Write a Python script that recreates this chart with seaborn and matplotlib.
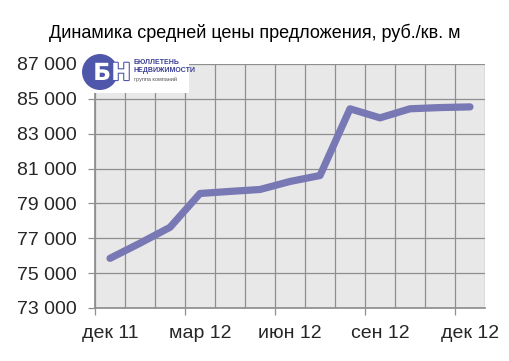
import matplotlib
matplotlib.use("Agg")
import matplotlib.pyplot as plt
import matplotlib.patheffects as pe
import seaborn as sns
import pandas as pd
from matplotlib.patches import Circle, Rectangle

months = ["дек 11", "янв 12", "фев 12", "мар 12", "апр 12", "май 12", "июн 12",
          "июл 12", "авг 12", "сен 12", "окт 12", "ноя 12", "дек 12"]
prices = [75850, 76720, 77630, 79570, 79690, 79800, 80260,
          80600, 84430, 83910, 84430, 84500, 84540]
label_months = ["дек 11", "мар 12", "июн 12", "сен 12", "дек 12"]
y_ticks = [73000, 75000, 77000, 79000, 81000, 83000, 85000, 87000]
title = "Динамика средней цены предложения, руб./кв. м"

df = pd.DataFrame({"idx": range(len(months)), "month": months, "price": prices})

sns.set_theme(style="white")
plt.rcParams['font.family'] = ['Liberation Sans', 'DejaVu Sans']

fig = plt.figure(figsize=(5.10, 3.61), dpi=100)
ax = fig.add_axes([95/510, 53/361, 390/510, 244/361])
ax.set_zorder(0)
ax.set_facecolor("#e8e8e8")

sns.lineplot(data=df, x="idx", y="price", ax=ax, color="#7878b4",
             linewidth=5.2, solid_capstyle="round", solid_joinstyle="round", zorder=3)

n = len(months)
ax.set_xlim(-0.5, n - 0.5)
ax.set_ylim(y_ticks[0], y_ticks[-1])

# grid
for b in range(n + 1):
    ax.axvline(b - 0.5, color="#8f8f8f", linewidth=0.9, zorder=1)
for yv in y_ticks:
    ax.axhline(yv, color="#8f8f8f", linewidth=0.9, zorder=1)

label_pos = [months.index(m) for m in label_months]
ax.set_xticks(label_pos)
ax.set_xticklabels(label_months, fontsize=14)
ax.set_xticks([p - 0.5 for p in label_pos], minor=True)
ax.tick_params(axis="x", which="major", length=0, pad=12)
ax.tick_params(axis="x", which="minor", length=5, width=0.9, color="#8f8f8f", direction="out", bottom=True)

ax.set_yticks(y_ticks)
ax.set_yticklabels([f"{v:,}".replace(",", " ") for v in y_ticks], fontsize=14)
ax.tick_params(axis="y", which="major", length=5, width=0.9, color="#8f8f8f", direction="out", left=True, pad=8)

for s in ax.spines.values():
    s.set_visible(False)
ax.spines["left"].set_visible(True)
ax.spines["bottom"].set_visible(True)
ax.spines["left"].set_color("#8f8f8f")
ax.spines["bottom"].set_color("#8f8f8f")
ax.set_xlabel("")
ax.set_ylabel("")

fig.text(0.5, 1 - 33/361, title, ha="center", va="center", fontsize=13, color="black")

# logo
bg_ax = fig.add_axes([92/510, 1 - 93/361, 97/510, 38/361])
bg_ax.set_zorder(2)
bg_ax.add_patch(Rectangle((0, 0), 1, 1, facecolor="white", edgecolor="none"))
bg_ax.axis("off")
logo_ax = fig.add_axes([82/510, 1 - 90/361, 36/510, 36/361])
logo_ax.set_zorder(3)
logo_ax.set_xlim(0, 1); logo_ax.set_ylim(0, 1); logo_ax.axis("off")
logo_ax.add_patch(Circle((0.5, 0.5), 0.48, color="#4f57aa"))
t_ax = fig.add_axes([0, 0, 1, 1])
t_ax.set_zorder(4)
t_ax.axis("off")
t_ax.text(112/510, 1 - 73/361, "БН", ha="center", va="center", fontsize=17,
          fontweight="bold", color="white", family=['DejaVu Sans'],
          path_effects=[pe.withStroke(linewidth=1.6, foreground="#4f57aa")])
t_ax.text(134/510, 1 - 63/361, "БЮЛЛЕТЕНЬ", ha="left", va="center", fontsize=5,
          fontweight="bold", color="#3b3f95")
t_ax.text(134/510, 1 - 70/361, "НЕДВИЖИМОСТИ", ha="left", va="center", fontsize=5,
          fontweight="bold", color="#3b3f95")
t_ax.text(134/510, 1 - 79/361, "группа компаний", ha="left", va="center", fontsize=4,
          color="#555555")

fig.savefig("out.png", dpi=100)
